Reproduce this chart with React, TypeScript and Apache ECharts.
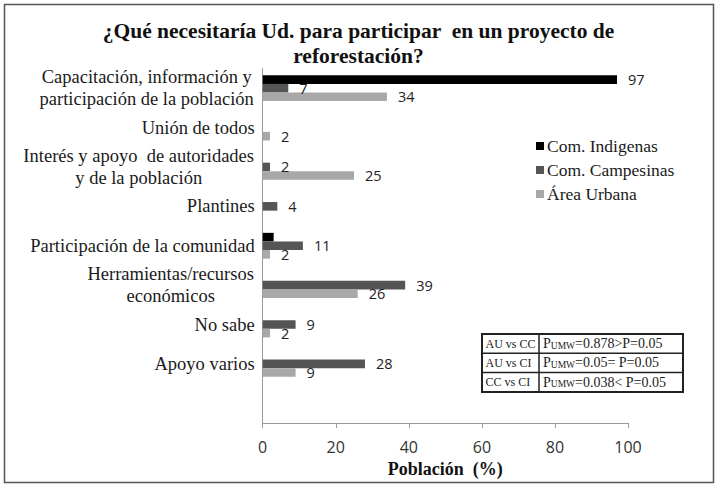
import React, { useEffect, useRef } from 'react';
import * as echarts from 'echarts';

const categories = [
  'Capacitación, información y\nparticipación de la población',
  'Unión de todos',
  'Interés y apoyo  de autoridades\ny de la población',
  'Plantines',
  'Participación de la comunidad',
  'Herramientas/recursos\neconómicos',
  'No sabe',
  'Apoyo varios',
  '',
];
const seriesNames = ['Com. Indigenas', 'Com. Campesinas', 'Área Urbana'];
const indigenas = [97, 0, 0, 0, 3, 0, 0, 0, null];
const campesinas = [7, 0, 2, 4, 11, 39, 9, 28, null];
const urbana = [34, 2, 25, 0, 2, 26, 2, 9, null];
const labelMinimum = [5, 1, 1];
const seriesColors = ['#000000', '#555555', '#a8a8a8'];
const xTicks = [0, 20, 40, 60, 80, 100];
const comparisons = ['AU vs CC', 'AU vs CI', 'CC vs CI'];
const pValues = ['=0.878>P=0.05', '=0.05= P=0.05', '=0.038< P=0.05'];

const SERIF = '"Liberation Serif", "Times New Roman", serif';
const SANS = '"Open Sans", "DejaVu Sans", sans-serif';
const CAT_FONT = 18.5;

function measure(text: string, font: string): number {
  const c = document.createElement('canvas');
  const ctx = c.getContext('2d');
  if (!ctx) return text.length * 7;
  ctx.font = font;
  return ctx.measureText(text).width;
}

export default function App() {
  const ref = useRef<HTMLDivElement>(null);
  useEffect(() => {
    if (!ref.current) return;
    const chart = echarts.init(ref.current, undefined, { renderer: 'svg' });

    const rich: Record<string, any> = {};
    categories.forEach((c, i) => {
      if (c.includes('\n')) {
        const w = Math.max(...c.split('\n').map((l) => measure(l, `${CAT_FONT}px "Liberation Serif"`)));
        rich['c' + i] = {
          width: Math.ceil(w) + 1,
          align: 'center',
          fontFamily: SERIF,
          fontSize: CAT_FONT,
          lineHeight: 22,
          color: '#1a1a1a',
        };
      }
    });

    const allData = [indigenas, campesinas, urbana];
    const series = allData.map((vals, si) => ({
      name: seriesNames[si],
      type: 'bar',
      barWidth: 8.6,
      barGap: '0%',
      itemStyle: { color: seriesColors[si] },
      data: vals.map((v) => ({
        value: v,
        label: { show: v != null && v >= labelMinimum[si] },
      })),
      label: {
        position: 'right',
        distance: 11,
        fontFamily: SANS,
        fontSize: 14.5,
        color: '#222',
      },
    }));

    const tableLeft = 482;
    const tableTop = 334;
    const tableW = 201;
    const rowH = 19.3;
    const divX = 539;
    const tableChildren: any[] = [
      {
        type: 'rect',
        shape: { x: tableLeft, y: tableTop, width: tableW, height: rowH * 3 },
        style: { fill: '#fff', stroke: '#222', lineWidth: 2 },
      },
      {
        type: 'line',
        shape: { x1: divX, y1: tableTop, x2: divX, y2: tableTop + rowH * 3 },
        style: { stroke: '#222', lineWidth: 1.5 },
      },
    ];
    for (let r = 1; r < 3; r++) {
      tableChildren.push({
        type: 'line',
        shape: { x1: tableLeft, y1: tableTop + rowH * r, x2: tableLeft + tableW, y2: tableTop + rowH * r },
        style: { stroke: '#222', lineWidth: 1.5 },
      });
    }
    comparisons.forEach((c, r) => {
      const cy = tableTop + rowH * r + rowH / 2;
      tableChildren.push({
        type: 'text',
        x: tableLeft + 3.5,
        y: cy,
        style: { text: c, fontFamily: SERIF, fontSize: 12, fill: '#222', verticalAlign: 'middle', align: 'left' },
      });
      tableChildren.push({
        type: 'text',
        x: divX + 4,
        y: cy,
        style: {
          text: `{p|P}{s|UMW}{p|${pValues[r]}}`,
          verticalAlign: 'middle',
          align: 'left',
          rich: {
            p: { fontFamily: SERIF, fontSize: 14, fill: '#222', color: '#222' },
            s: { fontFamily: SERIF, fontSize: 9.5, fill: '#222', color: '#222', verticalAlign: 'bottom' },
          },
        },
      });
    });

    chart.setOption({
      animation: false,
      backgroundColor: '#ffffff',
      title: {
        text: '¿Qué necesitaría Ud. para participar  en un proyecto de\nreforestación?',
        left: 'center',
        top: 18,
        padding: [0, 0, 0, 9],
        textStyle: {
          fontFamily: SERIF,
          fontWeight: 'bold',
          fontSize: 21.5,
          lineHeight: 25,
          color: '#111',
        },
      },
      legend: {
        orient: 'vertical',
        left: 531,
        top: 132,
        itemWidth: 8,
        itemHeight: 8,
        itemGap: 6,
        icon: 'rect',
        data: seriesNames,
        textStyle: { fontFamily: SERIF, fontSize: 17.5, color: '#1a1a1a', padding: [0, 0, 0, -2] },
      },
      grid: { left: 262.7, right: 89, top: 68.5, bottom: 62, containLabel: false },
      xAxis: {
        type: 'value',
        min: 0,
        max: 100,
        interval: 20,
        name: 'Población  (%)',
        nameLocation: 'middle',
        nameGap: 34,
        nameTextStyle: { fontFamily: SERIF, fontWeight: 'bold', fontSize: 18, color: '#111' },
        axisLine: { show: true, lineStyle: { color: '#999', width: 1 } },
        axisTick: { show: true, length: 5, lineStyle: { color: '#999' } },
        splitLine: { show: false },
        axisLabel: {
          margin: 16,
          fontFamily: SANS,
          fontSize: 16,
          color: '#333',
          formatter: (v: number) => (xTicks.includes(v) ? String(v) : ''),
        },
      },
      yAxis: {
        type: 'category',
        data: categories,
        inverse: true,
        axisLine: { show: true, lineStyle: { color: '#999', width: 1 } },
        axisTick: { show: false },
        splitLine: { show: false },
        axisLabel: {
          margin: 8,
          fontFamily: SERIF,
          fontSize: CAT_FONT,
          lineHeight: 22,
          color: '#1a1a1a',
          interval: 0,
          formatter: (value: string, idx: number) => {
            if (value.includes('\n')) {
              return value
                .split('\n')
                .map((l) => `{c${idx}|${l}}`)
                .join('\n');
            }
            return value;
          },
          rich,
        },
      },
      graphic: [
        {
          type: 'rect',
          shape: { x: 4.5, y: 4.5, width: 709, height: 478 },
          style: { fill: 'none', stroke: '#555', lineWidth: 1.5 },
          silent: true,
          z: 100,
        },
        { type: 'group', children: tableChildren, z: 50 },
      ],
      series,
    });
    return () => chart.dispose();
  }, []);
  return (
    <div
      ref={ref}
      style={{ position: 'fixed', left: 0, top: 0, width: 717, height: 485, background: '#fff' }}
    />
  );
}
